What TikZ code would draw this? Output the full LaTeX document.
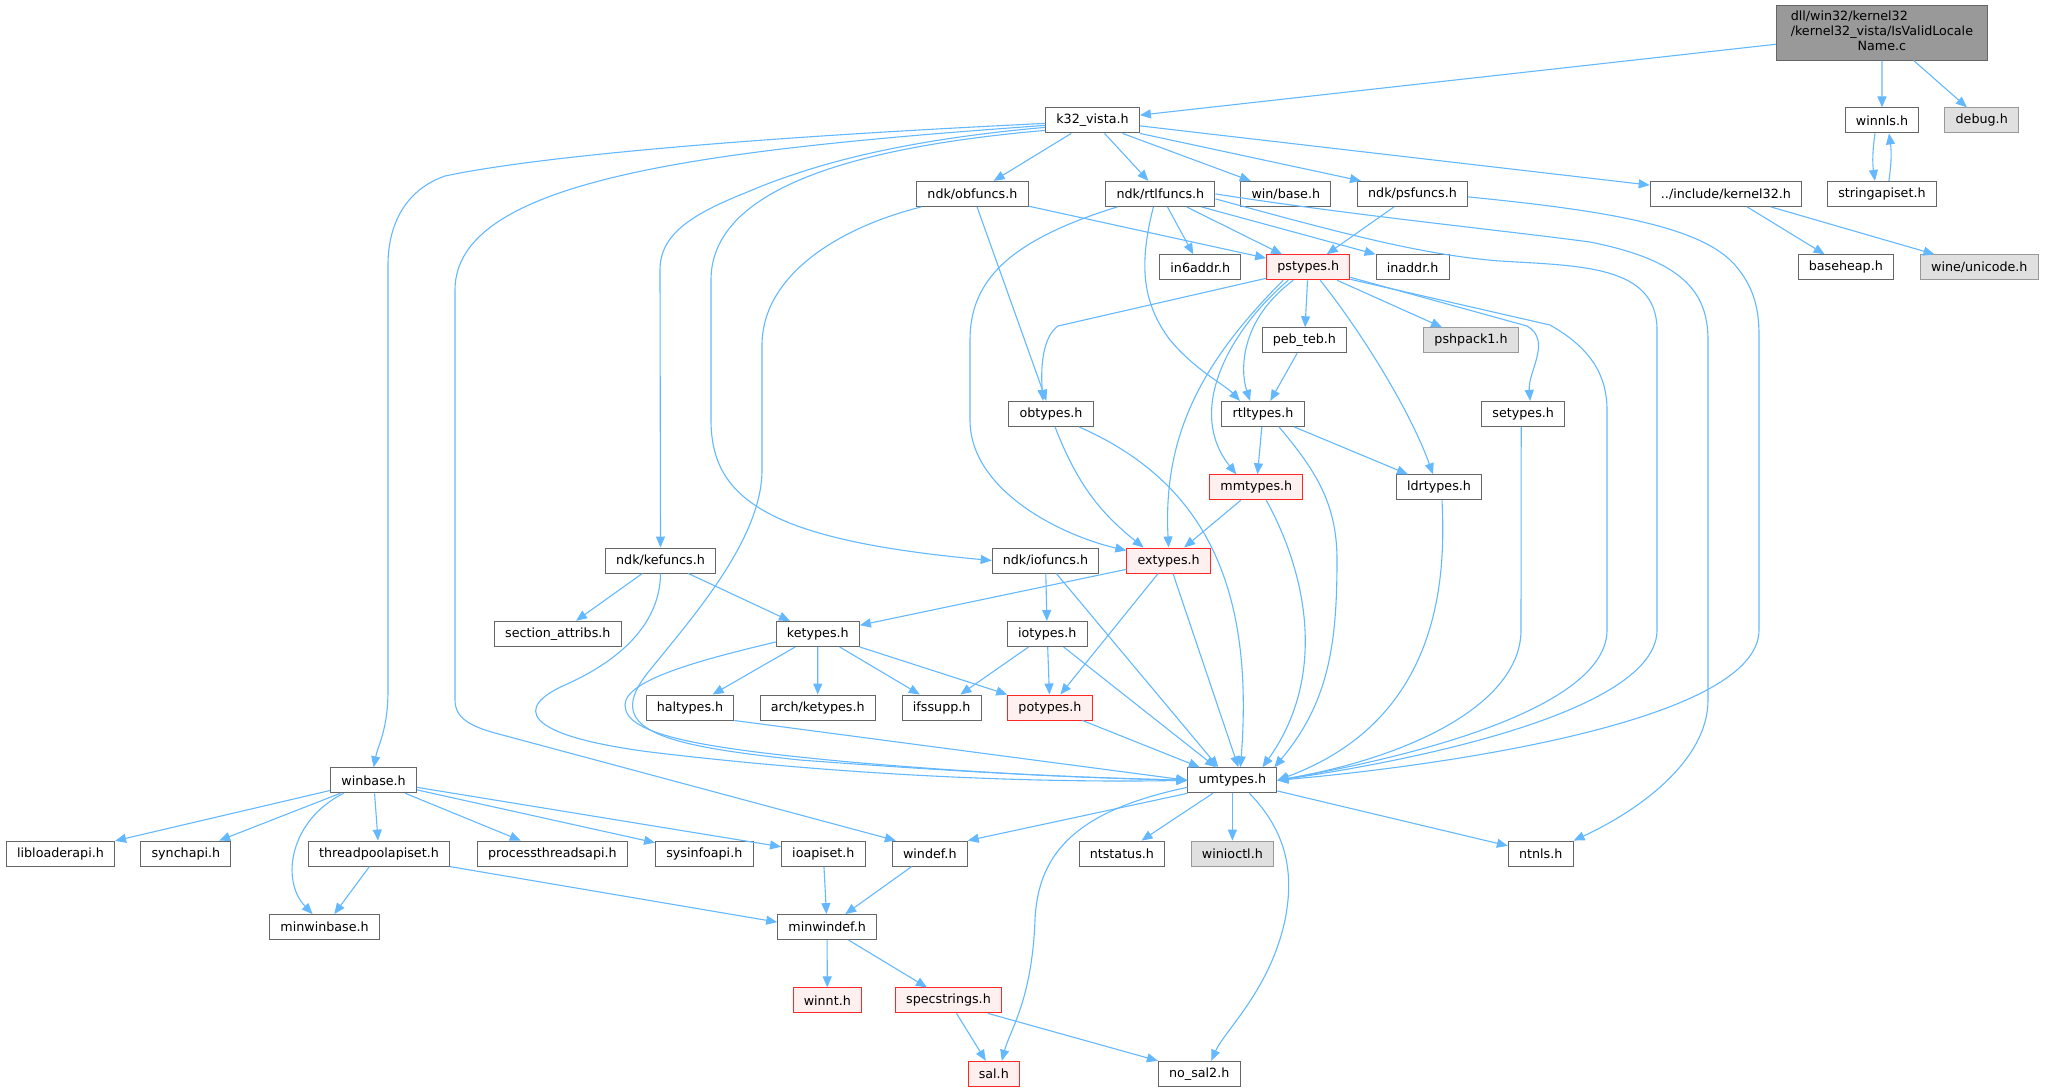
\documentclass[tikz,border=0pt]{standalone}
\usepackage{fontspec}
\setmainfont{DejaVu Sans}
\usetikzlibrary{arrows.meta}

\definecolor{depblue}{HTML}{63B8FF}
\definecolor{boxline}{HTML}{666666}
\definecolor{redfill}{HTML}{FFF0F0}
\definecolor{greyfill}{HTML}{E0E0E0}
\definecolor{greyline}{HTML}{999999}

\tikzset{
    file/.style={draw=boxline, fill=white, line width=1pt, minimum height=25pt,
        inner xsep=10.7pt, inner ysep=0pt, font=\fontsize{12.7}{15.2}\selectfont},
    redfile/.style={file, draw=red!85!white},
    redfile/.append style={fill=redfill},
    extfile/.style={file, draw=greyline, fill=greyfill},
    rootfile/.style={file, fill=greyline, minimum width=211pt, minimum height=55pt},
    dep/.style={draw=depblue, line width=1.1pt, -{Triangle[length=11pt,width=9pt]}}
}

\begin{document}
\begin{tikzpicture}[x=1pt,y=1pt]
    \useasboundingbox (0,0) rectangle (2045,-1092);

    % Draw the source file and the first row
    \node[rootfile] (root) at (1881.9,-32.5) {\begin{tabular}{@{}l@{}}dll/win32/kernel32\\/kernel32\_vista/IsValidLocale\\\multicolumn{1}{@{}c@{}}{Name.c}\end{tabular}};
    \node[file] (k32) at (1092.5,-120.4) {k32\_vista.h};
    \node[file] (winnls) at (1882,-120.4) {winnls.h};
    \node[extfile] (debug) at (1981.7,-120.4) {debug.h};

    % Draw the ndk headers
    \node[file] (obfuncs) at (972.4,-193.9) {ndk/obfuncs.h};
    \node[file] (rtlfuncs) at (1160.4,-193.9) {ndk/rtlfuncs.h};
    \node[file] (wbase) at (1285.8,-193.9) {win/base.h};
    \node[file] (psfuncs) at (1412.5,-193.9) {ndk/psfuncs.h};
    \node[file] (kernel32) at (1725.9,-193.9) {../include/kernel32.h};
    \node[file] (stringapiset) at (1881.9,-193.9) {stringapiset.h};

    \node[file] (in6addr) at (1200.3,-267.3) {in6addr.h};
    \node[redfile] (pstypes) at (1308.2,-267.3) {pstypes.h};
    \node[file] (inaddr) at (1412.6,-267.3) {inaddr.h};
    \node[file] (baseheap) at (1845.8,-267.3) {baseheap.h};
    \node[extfile] (wineunicode) at (1979.3,-267.3) {wine/unicode.h};

    \node[file] (pebteb) at (1304.4,-340.3) {peb\_teb.h};
    \node[extfile] (pshpack) at (1471,-340.3) {pshpack1.h};

    \node[file] (obtypes) at (1051,-413.9) {obtypes.h};
    \node[file] (rtltypes) at (1263,-413.9) {rtltypes.h};
    \node[file] (setypes) at (1523.2,-413.9) {setypes.h};

    \node[redfile] (mmtypes) at (1256.3,-487.3) {mmtypes.h};
    \node[file] (ldrtypes) at (1439,-487.3) {ldrtypes.h};

    \node[file] (kefuncs) at (660.5,-560.5) {ndk/kefuncs.h};
    \node[file] (iofuncs) at (1045.5,-560.5) {ndk/iofuncs.h};
    \node[redfile] (extypes) at (1168.6,-560.5) {extypes.h};

    \node[file] (secattr) at (557.8,-633.8) {section\_attribs.h};
    \node[file] (ketypes) at (817.8,-634) {ketypes.h};
    \node[file] (iotypes) at (1047.2,-634) {iotypes.h};

    \node[file] (haltypes) at (690,-707.5) {haltypes.h};
    \node[file] (archketypes) at (817.7,-707.5) {arch/ketypes.h};
    \node[file] (ifssupp) at (941.7,-707.5) {ifssupp.h};
    \node[redfile] (potypes) at (1049.9,-707.5) {potypes.h};

    % Draw the win32 headers
    \node[file] (winbase) at (373.6,-780.3) {winbase.h};
    \node[file] (umtypes) at (1232.4,-780.3) {umtypes.h};

    \node[file] (libloader) at (60.5,-853.6) {libloaderapi.h};
    \node[file] (synchapi) at (185.9,-853.6) {synchapi.h};
    \node[file] (threadpool) at (379,-853.6) {threadpoolapiset.h};
    \node[file] (procthreads) at (552.4,-853.6) {processthreadsapi.h};
    \node[file] (sysinfo) at (704.3,-853.6) {sysinfoapi.h};
    \node[file] (ioapiset) at (823.3,-853.6) {ioapiset.h};
    \node[file] (windef) at (929.8,-853.6) {windef.h};
    \node[file] (ntstatus) at (1121.9,-853.6) {ntstatus.h};
    \node[extfile] (winioctl) at (1232.4,-853.6) {winioctl.h};
    \node[file] (ntnls) at (1540.7,-853.6) {ntnls.h};

    \node[file] (minwinbase) at (324.6,-927.1) {minwinbase.h};
    \node[file] (minwindef) at (827.1,-927.1) {minwindef.h};

    \node[redfile] (winnt) at (827.3,-1000.4) {winnt.h};
    \node[redfile] (specstrings) at (948.5,-1000.4) {specstrings.h};

    \node[redfile] (sal) at (993.8,-1073.8) {sal.h};
    \node[file] (nosal2) at (1199.2,-1073.8) {no\_sal2.h};

    % Draw the includes of the source file
    \draw[dep] (root) -- (k32);
    \draw[dep] (root) -- (winnls);
    \draw[dep] (root) -- (debug);
    \draw[dep] ([xshift=-7pt]winnls.south) to[bend right=8] ([xshift=-7pt]stringapiset.north);
    \draw[dep] ([xshift=7pt]stringapiset.north) to[bend right=8] ([xshift=7pt]winnls.south);

    % Draw the includes of k32_vista.h
    \draw[dep] ([yshift=-3pt]k32.west) .. controls (700,-140) and (520,-160) .. (445,-176) .. controls (405,-190) and (388,-225) .. (388,-265) -- (388,-690) .. controls (388,-730) and (378,-745) .. (winbase.north);
    \draw[dep] ([yshift=-5pt]k32.west) .. controls (700,-150) and (455,-180) .. (455,-290) -- (455,-700) .. controls (455,-718) and (470,-726) .. (495,-733) -- ([xshift=4pt]windef.north west);
    \draw[dep] ([yshift=-7pt]k32.west) .. controls (900,-140) and (810,-165) .. (745,-193) .. controls (690,-215) and (660,-235) .. (660,-270) -- (kefuncs.north);
    \draw[dep] ([yshift=-10pt]k32.west) .. controls (820,-150) and (711,-200) .. (711,-280) -- (711,-420) .. controls (711,-500) and (770,-540) .. (iofuncs.west);
    \draw[dep] (k32) -- (obfuncs);
    \draw[dep] (k32) -- (rtlfuncs);
    \draw[dep] ([xshift=30pt]k32.south) -- (wbase);
    \draw[dep] (k32.south east) -- ([xshift=4pt]psfuncs.north west);
    \draw[dep] (k32) -- (kernel32);

    % Draw the includes of the ndk headers
    \draw[dep] (obfuncs) -- (pstypes);
    \draw[dep] (obfuncs) -- (obtypes);
    \draw[dep] ([xshift=5pt]obfuncs.south west) .. controls (830,-230) and (762,-280) .. (762,-345) -- (762,-470) .. controls (762,-540) and (690,-620) .. (650,-670) .. controls (600,-730) and (660,-745) .. (800,-760) .. controls (1000,-775) and (1100,-778) .. (umtypes.west);

    \draw[dep] ([xshift=-43pt]rtlfuncs.south) .. controls (1010,-240) and (970,-280) .. (970,-340) -- (970,-420) .. controls (970,-490) and (1060,-535) .. ([yshift=-3pt]extypes.north west);
    \draw[dep] ([xshift=-7pt]rtlfuncs.south) .. controls (1140,-260) and (1140,-300) .. (1170,-340) .. controls (1195,-370) and (1225,-385) .. ([xshift=-23pt]rtltypes.north);
    \draw[dep] (rtlfuncs) -- (in6addr);
    \draw[dep] (rtlfuncs) -- (pstypes);
    \draw[dep] ([xshift=-14pt]rtlfuncs.south east) -- (inaddr.north west);
    \draw[dep] ([yshift=-5pt]rtlfuncs.east) .. controls (1330,-230) and (1420,-255) .. (1500,-261) .. controls (1580,-266) and (1657,-265) .. (1657,-330) -- (1657,-630) .. controls (1657,-705) and (1450,-755) .. (umtypes.east);
    \draw[dep] (rtlfuncs.east) .. controls (1350,-215) and (1500,-230) .. (1590,-242) .. controls (1680,-260) and (1708,-290) .. (1708,-340) -- (1708,-700) .. controls (1708,-760) and (1640,-810) .. (ntnls.north east);

    \draw[dep] (psfuncs) -- (pstypes);
    \draw[dep] ([yshift=-3pt]psfuncs.east) .. controls (1600,-210) and (1700,-225) .. (1735,-265) .. controls (1752,-285) and (1759,-305) .. (1759,-335) -- (1759,-630) .. controls (1759,-720) and (1450,-765) .. (umtypes.east);

    \draw[dep] (kernel32) -- (baseheap);
    \draw[dep] (kernel32) -- (wineunicode);

    % Draw the includes of pstypes.h
    \draw[dep] ([yshift=-11pt]pstypes.west) -- (1058,-326) .. controls (1045,-335) and (1040,-360) .. ([xshift=-8pt]obtypes.north);
    \draw[dep] ([xshift=-25pt]pstypes.south) to[out=225,in=93] (extypes.north);
    \draw[dep] ([xshift=-20pt]pstypes.south) .. controls (1230,-330) and (1185,-410) .. ([xshift=-20pt]mmtypes.north);
    \draw[dep] ([xshift=-15pt]pstypes.south) .. controls (1240,-320) and (1240,-370) .. ([xshift=-13pt]rtltypes.north);
    \draw[dep] (pstypes) -- (pebteb);
    \draw[dep] ([xshift=12pt]pstypes.south) .. controls (1360,-330) and (1410,-410) .. ([xshift=-6pt]ldrtypes.north);
    \draw[dep] (pstypes) -- (pshpack);
    \draw[dep] ([yshift=-10pt]pstypes.east) -- (1527,-326) to[out=-30,in=95] ([xshift=7pt]setypes.north);
    \draw[dep] ([yshift=-12pt]pstypes.east) -- (1550,-325) .. controls (1585,-345) and (1607,-370) .. (1607,-410) -- (1607,-630) .. controls (1607,-700) and (1450,-750) .. (umtypes.east);

    % Draw the includes of the type headers
    \draw[dep] (pebteb) -- (rtltypes);
    \draw[dep] ([xshift=4pt]obtypes.south) to[bend right=15] ([xshift=-25pt]extypes.north);
    \draw[dep] ([xshift=28pt]obtypes.south) .. controls (1200,-480) and (1255,-580) .. ([xshift=8pt]umtypes.north);
    \draw[dep] (rtltypes) -- (mmtypes);
    \draw[dep] (rtltypes) -- (ldrtypes);
    \draw[dep] ([xshift=16pt]rtltypes.south) to[out=-50,in=90] (1337,-560) to[out=-90,in=50] ([xshift=-3pt]umtypes.north east);
    \draw[dep] (mmtypes) -- (extypes);
    \draw[dep] ([xshift=10pt]mmtypes.south) .. controls (1310,-580) and (1325,-680) .. ([xshift=30pt]umtypes.north);
    \draw[dep] ([xshift=3pt]ldrtypes.south) .. controls (1446,-580) and (1440,-720) .. (umtypes.east);
    \draw[dep] ([xshift=-2pt]setypes.south) -- (1521,-630) .. controls (1521,-700) and (1420,-755) .. (umtypes.east);

    \draw[dep] (kefuncs) -- (secattr);
    \draw[dep] (kefuncs) -- (ketypes);
    \draw[dep] (kefuncs.south) .. controls (660,-630) and (610,-665) .. (565,-685) .. controls (515,-707) and (520,-735) .. (650,-752) .. controls (900,-782) and (1100,-782) .. (umtypes.west);
    \draw[dep] (iofuncs) -- (iotypes);
    \draw[dep] (iofuncs) -- ([xshift=-14pt]umtypes.north);
    \draw[dep] (extypes) -- (ketypes);
    \draw[dep] (extypes) -- (potypes);
    \draw[dep] (extypes) -- ([xshift=6pt]umtypes.north);

    \draw[dep] (ketypes) -- (haltypes);
    \draw[dep] (ketypes) -- (archketypes);
    \draw[dep] (ketypes) -- (ifssupp);
    \draw[dep] (ketypes.south east) -- (potypes.north west);
    \draw[dep] ([yshift=-8pt]ketypes.west) .. controls (700,-660) and (625,-680) .. (625,-705) .. controls (625,-735) and (700,-748) .. (850,-762) .. controls (1000,-775) and (1100,-778) .. (umtypes.west);
    \draw[dep] (iotypes) -- (ifssupp);
    \draw[dep] (iotypes) -- (potypes);
    \draw[dep] (iotypes) -- (umtypes);
    \draw[dep] (haltypes.south east) -- (umtypes.west);
    \draw[dep] (potypes) -- (umtypes);

    % Draw the includes of umtypes.h
    \draw[dep] (umtypes.south west) -- (windef.north east);
    \draw[dep] ([yshift=-7pt]umtypes.west) .. controls (1080,-810) and (1038,-850) .. (1035,-920) .. controls (1032,-1000) and (1010,-1030) .. ([xshift=8pt]sal.north);
    \draw[dep] (umtypes) -- (ntstatus);
    \draw[dep] (umtypes) -- (winioctl);
    \draw[dep] (umtypes) -- (ntnls);
    \draw[dep] ([xshift=17pt]umtypes.south) .. controls (1285,-830) and (1295,-870) .. (1285,-920) .. controls (1270,-990) and (1225,-1030) .. ([xshift=12pt]nosal2.north);

    % Draw the includes of winbase.h
    \draw[dep] (winbase) -- (libloader);
    \draw[dep] (winbase) -- (synchapi);
    \draw[dep] (winbase) -- (threadpool);
    \draw[dep] (winbase) -- (procthreads);
    \draw[dep] (winbase) -- (sysinfo);
    \draw[dep] (winbase) -- (ioapiset);
    \draw[dep] ([xshift=-30pt]winbase.south) .. controls (290,-820) and (280,-880) .. ([xshift=-12pt]minwinbase.north);

    % Draw the includes down to sal.h
    \draw[dep] (threadpool) -- (minwinbase);
    \draw[dep] (threadpool.south east) -- ([yshift=5pt]minwindef.west);
    \draw[dep] (ioapiset) -- (minwindef);
    \draw[dep] (windef) -- (minwindef);
    \draw[dep] (minwindef) -- (winnt);
    \draw[dep] (minwindef) -- (specstrings);
    \draw[dep] (specstrings) -- (sal);
    \draw[dep] ([xshift=-14pt]specstrings.south east) -- (nosal2.north west);
\end{tikzpicture}
\end{document}
